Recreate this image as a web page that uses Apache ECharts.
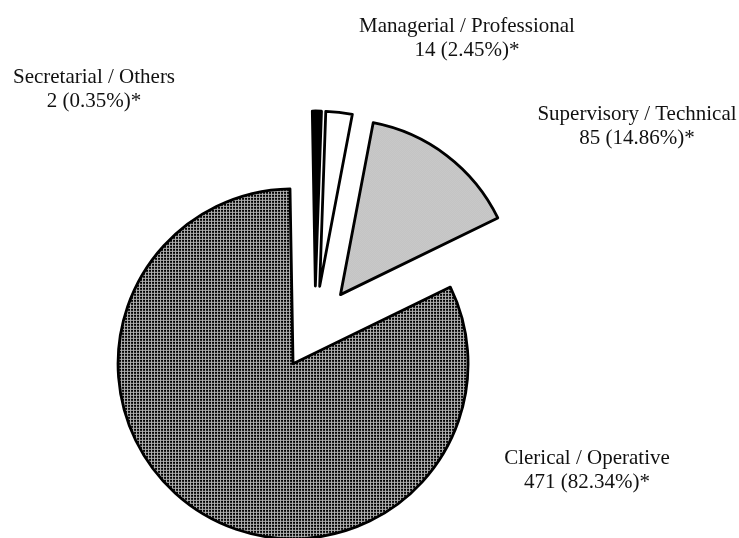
<!DOCTYPE html>
<html>
<head>
<meta charset="utf-8">
<script src="https://cdn.jsdelivr.net/npm/echarts@6/dist/echarts.min.js"></script>
<style>
  html, body { margin: 0; padding: 0; background: #fff; }
  #chart { width: 739px; height: 538px; }
</style>
</head>
<body>
<div id="chart"></div>
<script>
// data, clockwise from 12 o'clock
const categories = ['Managerial / Professional', 'Supervisory / Technical', 'Clerical / Operative', 'Secretarial / Others'];
const counts = [14, 85, 471, 2];

// label block centres (layout only)
const labelPos = [[467, 38], [637, 126], [587, 470], [94, 89]];

function makePattern(size, paint) {
    const c = document.createElement('canvas');
    c.width = size;
    c.height = size;
    const ctx = c.getContext('2d');
    paint(ctx);
    return c;
}

// dense dark grid for clerical
const darkGrid = makePattern(3, ctx => {
    ctx.fillStyle = '#b4b4b4';
    ctx.fillRect(0, 0, 3, 3);
    ctx.fillStyle = '#000';
    ctx.fillRect(0, 0, 2, 2);
});
// light grey checker for supervisory
const lightDots = makePattern(2, ctx => {
    ctx.fillStyle = '#f4f4f4';
    ctx.fillRect(0, 0, 2, 2);
    ctx.fillStyle = '#999';
    ctx.fillRect(0, 0, 1, 1);
    ctx.fillRect(1, 1, 1, 1);
});

const fills = [
    '#fff',
    {image: lightDots, repeat: 'repeat'},
    {image: darkGrid, repeat: 'repeat'},
    '#000'
];

const pieBase = {
    type: 'pie',
    center: [315, 328],
    radius: [0, 175],
    startAngle: 88,
    clockwise: true,
    minAngle: 3,
    percentPrecision: 2,
    animation: false
};

const chart = echarts.init(document.getElementById('chart'), null, {renderer: 'canvas'});
chart.setOption({
    animation: false,
    backgroundColor: '#fff',
    series: [
        // exploded slices
        Object.assign({}, pieBase, {
            selectedMode: 'multiple',
            selectedOffset: 42,
            itemStyle: {borderColor: '#000', borderWidth: 2.8},
            select: {itemStyle: {borderColor: '#000', borderWidth: 2.8}},
            emphasis: {disabled: true},
            label: {show: false},
            labelLine: {show: false},
            data: categories.map((name, i) => ({
                name: name,
                value: counts[i],
                selected: true,
                itemStyle: {color: fills[i]}
            }))
        }),
        // labels only
        Object.assign({}, pieBase, {
            silent: true,
            z: 3,
            itemStyle: {color: 'rgba(0,0,0,0)', borderWidth: 0},
            emphasis: {disabled: true},
            label: {
                show: true,
                position: 'outside',
                formatter: '{b}\n{c} ({d}%)*',
                fontFamily: 'Liberation Serif',
                fontSize: 21,
                lineHeight: 24,
                color: '#111',
                align: 'center'
            },
            labelLine: {show: false},
            labelLayout: params => ({
                x: labelPos[params.dataIndex][0],
                y: labelPos[params.dataIndex][1],
                align: 'center',
                verticalAlign: 'middle'
            }),
            data: categories.map((name, i) => ({name: name, value: counts[i]}))
        })
    ]
});
</script>
</body>
</html>
